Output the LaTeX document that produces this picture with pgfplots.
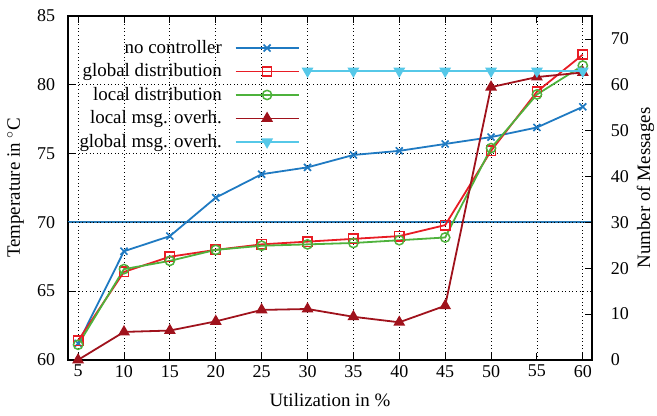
\documentclass[border=0pt]{standalone}
\usepackage{pgfplots}
\pgfplotsset{compat=1.18}
\usepackage{fontspec}
\setmainfont{Liberation Serif}

\definecolor{cblue}{RGB}{31,122,194}
\definecolor{cred}{RGB}{232,28,36}
\definecolor{cgreen}{RGB}{78,178,60}
\definecolor{cdred}{RGB}{160,18,28}
\definecolor{ccyan}{RGB}{86,200,232}
\definecolor{cline}{RGB}{40,122,182}

\pgfplotstableread{
x   noc    glob   loc
5   61.2   61.4   61.1
10  67.9   66.4   66.6
15  69.0   67.5   67.2
20  71.8   68.0   68.0
25  73.5   68.4   68.3
30  74.0   68.6   68.4
35  74.9   68.8   68.5
40  75.2   69.0   68.7
45  75.7   69.8   68.9
50  76.2   75.2   75.4
55  76.9   79.5   79.3
60  78.4   82.2   81.4
}\temps

\pgfplotstableread{
x   lmsg
5   0.0
10  6.1
15  6.4
20  8.4
25  10.9
30  11.1
35  9.4
40  8.2
45  11.8
50  59.5
55  61.7
60  62.7
}\localmsg

\pgfplotstableread{
x   gmsg
30  63
35  63
40  63
45  63
50  63
55  63
60  63
}\globalmsg

\pgfplotsset{
  every axis/.append style={
    scale only axis, width=349pt, height=229pt,
    xmin=3.9, xmax=61,
    tick align=inside,
    major tick length=4.5pt,
    axis line style={black, line width=0.9pt},
    every tick/.style={black, line width=0.6pt},
    /pgf/number format/assume math mode=true,
    tick label style={font=\fontsize{12}{14}\selectfont},
    label style={font=\fontsize{12.6}{15}\selectfont},
  },
  legimg/.style={legend image code/.code={
    \draw[mark repeat=2,mark phase=2] plot coordinates {(0pt,0pt)(21pt,0pt)(42pt,0pt)};}},
}

\begin{document}
\begin{tikzpicture}
\begin{axis}[
  ymin=60, ymax=85,
  ytick={60,65,...,85},
  xtick={5,10,...,60},
  ytick pos=left,
  grid=major,
  major grid style={black, dotted, line width=0.5pt},
  yticklabel style={xshift=-5pt},
  xlabel={Utilization in \%},
  ylabel={Temperature in $^\circ$C},
  xlabel style={at={(axis description cs:0.5,-0.118)}, anchor=center},
  ylabel style={at={(axis description cs:-0.100,0.5)}, anchor=center},
  legend style={draw=none, fill=none, at={(0.451,0.95)}, anchor=north east,
    font=\fontsize{12.6}{15}\selectfont, row sep=0.4pt, column sep=6pt,
    nodes={inner sep=2.5pt},
    legend cell align=right},
  legend plot pos=right,
  legimg,
]
\addplot[cline, line width=1.4pt, forget plot] coordinates {(3.9,70) (61,70)};
\addplot[black, dotted, line width=0.4pt, forget plot] coordinates {(3.9,70) (61,70)};
\addplot[cblue, line width=1.2pt, mark=x, mark size=3.3pt, mark options={line width=1.1pt}]
  table[x=x, y=noc] {\temps};
\addlegendentry{no controller}
\addplot[cred, line width=1.2pt, mark=square, mark size=3.1pt, mark options={line width=1pt}]
  table[x=x, y=glob] {\temps};
\addlegendentry{global distribution}
\addplot[cgreen, line width=1.2pt, mark=o, mark size=3.1pt, mark options={line width=1pt}]
  table[x=x, y=loc] {\temps};
\addlegendentry{local distribution}
\addlegendimage{cdred, line width=1.2pt, mark=triangle*, mark size=3.4pt}
\addlegendentry{local msg. overh.}
\addlegendimage{ccyan, line width=1.2pt, mark=triangle*, mark size=3.4pt, mark options={rotate=180}}
\addlegendentry{global msg. overh.}
\end{axis}

\begin{axis}[
  ymin=0, ymax=75,
  ytick={0,10,...,70},
  axis y line*=right,
  axis x line=none,
  yticklabel style={xshift=9pt},
  ylabel={Number of Messages},
  ylabel style={at={(axis description cs:1.102,0.5)}, anchor=center},
]
\addplot[cdred, line width=1.2pt, mark=triangle*, mark size=3.4pt]
  table[x=x, y=lmsg] {\localmsg};
\addplot[ccyan, line width=1.2pt, mark=triangle*, mark size=3.4pt, mark options={rotate=180}]
  table[x=x, y=gmsg] {\globalmsg};
\end{axis}
\pgfresetboundingbox
\path[use as bounding box] (-45.3pt,-37.3pt) rectangle (392.3pt,239.7pt);
\end{tikzpicture}
\end{document}
